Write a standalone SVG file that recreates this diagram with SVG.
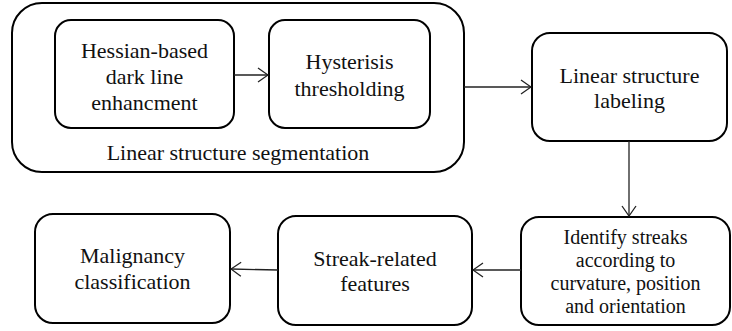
<svg xmlns="http://www.w3.org/2000/svg" width="732" height="331" viewBox="0 0 732 331">
<defs>
<style>
.box{fill:#fff;stroke:#000;stroke-width:2}
text{font-family:"Times New Roman","Liberation Serif","DejaVu Serif",serif;font-size:22px;fill:#111;text-anchor:middle}
.s{font-size:20px}
.c{fill:none;stroke:#222;stroke-width:1.3}
</style>
<marker id="ah" viewBox="0 0 12 16" refX="11" refY="8" markerWidth="12" markerHeight="16" markerUnits="userSpaceOnUse" orient="auto">
<path d="M1,1 L11,8 L1,15" fill="none" stroke="#222" stroke-width="1.3"/>
</marker>
</defs>
<g id="segmentation">
<rect class="box" x="12" y="3" width="452" height="169" rx="30"/>
<text x="238" y="160">Linear structure segmentation</text>
</g>
<g id="hessian">
<rect class="box" x="55" y="20" width="179" height="108" rx="16"/>
<text x="144.5" y="58">Hessian-based</text>
<text x="144.5" y="84">dark line</text>
<text x="144.5" y="110">enhancment</text>
</g>
<g id="hysteresis">
<rect class="box" x="269" y="20" width="161" height="108" rx="16"/>
<text x="349.5" y="69">Hysterisis</text>
<text x="349.5" y="96">thresholding</text>
</g>
<g id="labeling">
<rect class="box" x="532" y="33" width="195" height="108" rx="18"/>
<text x="629.5" y="83">Linear structure</text>
<text x="629.5" y="108">labeling</text>
</g>
<g id="identify">
<rect class="box" x="521" y="217" width="209" height="108" rx="18"/>
<text class="s" x="625.5" y="244">Identify streaks</text>
<text class="s" x="625.5" y="267">according to</text>
<text class="s" x="625.5" y="290">curvature, position</text>
<text class="s" x="625.5" y="313">and orientation</text>
</g>
<g id="streak">
<rect class="box" x="278" y="216" width="194" height="109" rx="18"/>
<text x="375" y="266">Streak-related</text>
<text x="375" y="291">features</text>
</g>
<g id="malignancy">
<rect class="box" x="35" y="214" width="195" height="109" rx="18"/>
<text x="132.5" y="263">Malignancy</text>
<text x="132.5" y="289">classification</text>
</g>
<g id="connectors">
<line class="c" x1="234" y1="75" x2="268" y2="75" marker-end="url(#ah)"/>
<line class="c" x1="464" y1="87" x2="531" y2="87" marker-end="url(#ah)"/>
<line class="c" x1="629" y1="141" x2="629" y2="216" marker-end="url(#ah)"/>
<line class="c" x1="521" y1="270" x2="473" y2="270" marker-end="url(#ah)"/>
<line class="c" x1="278" y1="270" x2="231" y2="269" marker-end="url(#ah)"/>
</g>
</svg>
